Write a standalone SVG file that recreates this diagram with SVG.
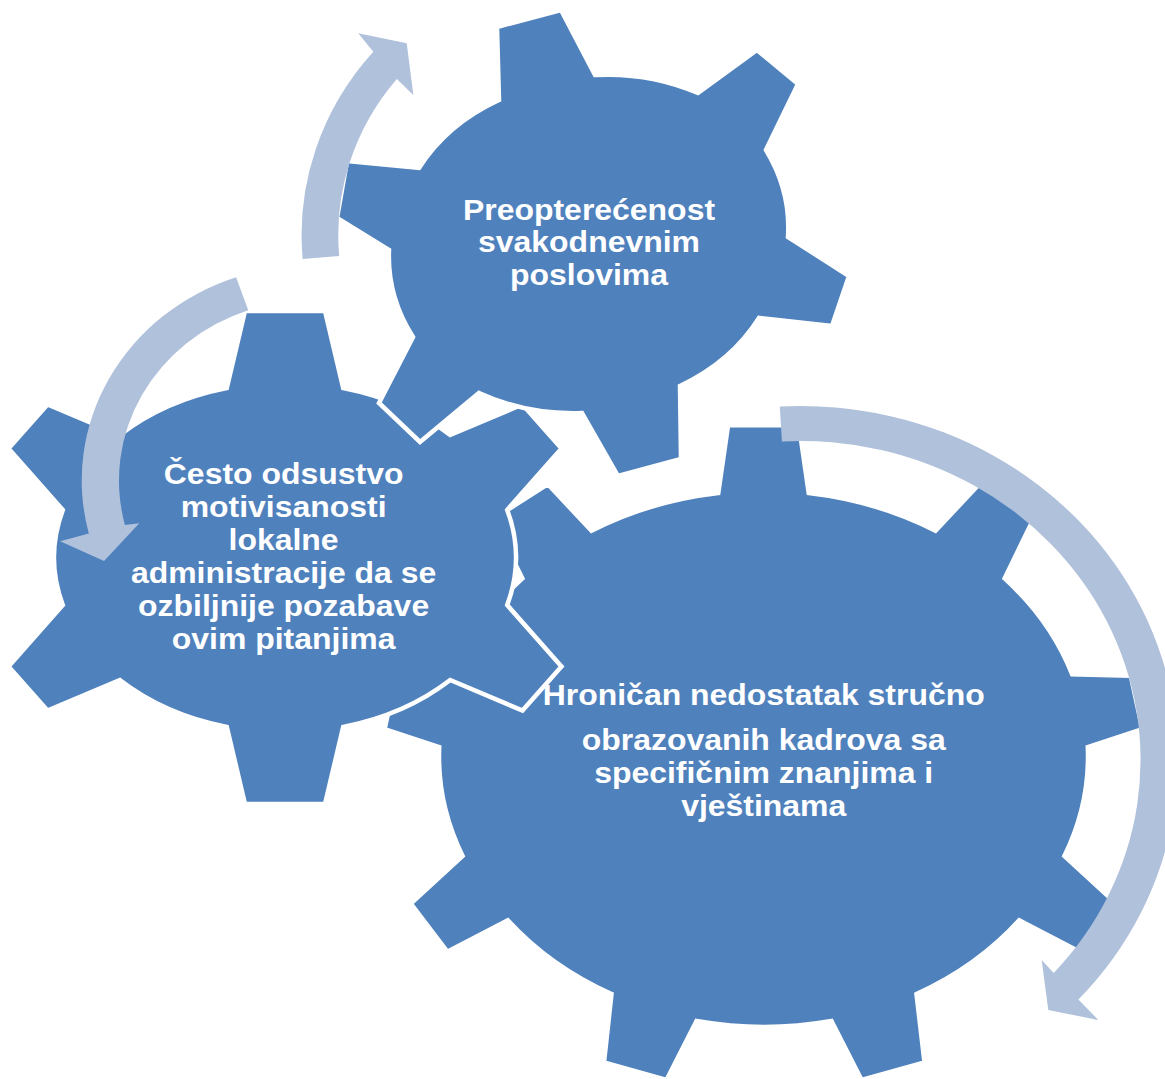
<svg xmlns="http://www.w3.org/2000/svg" width="1165" height="1079" viewBox="0 0 1165 1079">
  <style>
    .gear { fill: #4F81BD; stroke: #FFFFFF; stroke-width: 4.5; stroke-linejoin: miter; }
    .arrow { fill: #B0C1DB; stroke: none; }
    .label { font-family: "Liberation Sans", Arial, sans-serif; font-weight: bold; font-size: 30px; fill: #FFFFFF; text-anchor: middle; }
  </style>
  <rect width="1165" height="1079" fill="#FFFFFF"/>

  <g id="node-hronican">
    <path class="gear" d="M 718.3 493.0 L 728.1 425.2 L 798.9 425.2 L 808.7 493.0 A 324.5 266 0 0 1 935.5 530.8 L 979.1 484.2 L 1033.5 519.1 L 1004.6 578.4 A 324.5 266 0 0 1 1072.1 674.2 L 1130.8 675.7 L 1142.4 729.2 L 1087.8 747.1 A 324.5 266 0 0 1 1064.4 856.0 L 1116.2 903.7 L 1079.7 951.7 L 1019.2 920.2 A 324.5 266 0 0 1 916.5 994.0 L 924.5 1062.5 L 861.6 1080.0 L 831.5 1021.0 A 324.5 266 0 0 1 696.5 1021.0 L 666.5 1080.0 L 604.0 1062.5 L 611.5 994.0 A 324.5 266 0 0 1 507.8 920.2 L 447.3 951.7 L 410.8 903.7 L 462.6 856.0 A 324.5 266 0 0 1 439.2 747.1 L 384.6 729.2 L 396.2 675.7 L 454.9 674.2 A 324.5 266 0 0 1 522.4 578.4 L 493.0 519.1 L 547.9 484.2 L 591.5 530.8 A 324.5 266 0 0 1 718.3 493.0 Z"/>
    <g transform="translate(763.7,0) scale(1.065,1)">
      <text class="label" x="0" y="705">Hroničan nedostatak stručno</text>
      <text class="label" x="0" y="750">obrazovanih kadrova sa</text>
      <text class="label" x="0" y="783">specifičnim znanjima i</text>
      <text class="label" x="0" y="816">vještinama</text>
    </g>
  </g>

  <g id="node-cesto">
    <path class="gear" d="M 226.8 388.1 L 245.0 310.9 L 325.0 310.9 L 343.2 388.1 A 231 175 0 0 1 450.2 435.0 L 522.5 404.4 L 561.5 448.5 L 507.2 509.9 A 231 175 0 0 1 507.2 605.1 L 561.5 666.5 L 522.5 710.6 L 450.2 680.0 A 231 175 0 0 1 343.2 726.9 L 325.0 804.1 L 245.0 804.1 L 226.8 726.9 A 231 175 0 0 1 119.8 680.0 L 47.5 710.6 L 8.5 666.5 L 62.8 605.1 A 231 175 0 0 1 62.8 509.9 L 8.5 448.5 L 47.5 404.4 L 119.8 435.0 A 231 175 0 0 1 226.8 388.1 Z"/>
    <g transform="translate(283.6,0) scale(1.065,1)">
      <text class="label" x="0" y="484">Često odsustvo</text>
      <text class="label" x="0" y="517">motivisanosti</text>
      <text class="label" x="0" y="550">lokalne</text>
      <text class="label" x="0" y="583">administracije da se</text>
      <text class="label" x="0" y="616">ozbiljnije pozabave</text>
      <text class="label" x="0" y="649">ovim pitanjima</text>
    </g>
  </g>

  <g id="node-preopterecenost">
    <path class="gear" d="M 499 100 L 497 27 L 561 10 L 595 75 A 199 169 0 0 1 698 93 L 757 50 L 798 84 L 766 150 A 199 169 0 0 1 788 237 L 849 276 L 832 326 L 759 318 A 199 169 0 0 1 680 386 L 681 459 L 618 476 L 582 413 A 199 169 0 0 1 479 393 L 420 442 L 379 403 L 413 337 A 199 169 0 0 1 389 250 L 337 218 L 347 161 L 419 168 A 199 169 0 0 1 499 100 Z"/>
    <g transform="translate(589,0) scale(1.065,1)">
      <text class="label" x="0" y="220">Preopterećenost</text>
      <text class="label" x="0" y="252.5">svakodnevnim</text>
      <text class="label" x="0" y="285">poslovima</text>
    </g>
  </g>

  <g id="connectors" transform="scale(1.065,1)">
    <path id="arrow-top" class="arrow" d="M 284.2 258.9 A 282.4 282.4 0 0 1 350.5 51.8 L 336.4 33.3 L 381.9 43.3 L 388.1 95 L 372.6 79.1 A 248 248 0 0 0 318.5 256 Z"/>
    <path id="arrow-left" class="arrow" d="M 221.7 277.2 A 215 215 0 0 0 83.4 533.6 L 56.5 541.3 L 97.7 560.9 L 130.8 523.3 L 117.3 525 A 180 180 0 0 1 233.1 310.3 Z"/>
    <path id="arrow-right" class="arrow" d="M 732.2 406.5 A 354 354 0 0 1 1012.6 999.5 L 1031.3 1020 L 984.3 1010 L 978.1 960 L 989.4 972.9 A 319 319 0 0 0 734.2 441.4 Z"/>
  </g>
</svg>
